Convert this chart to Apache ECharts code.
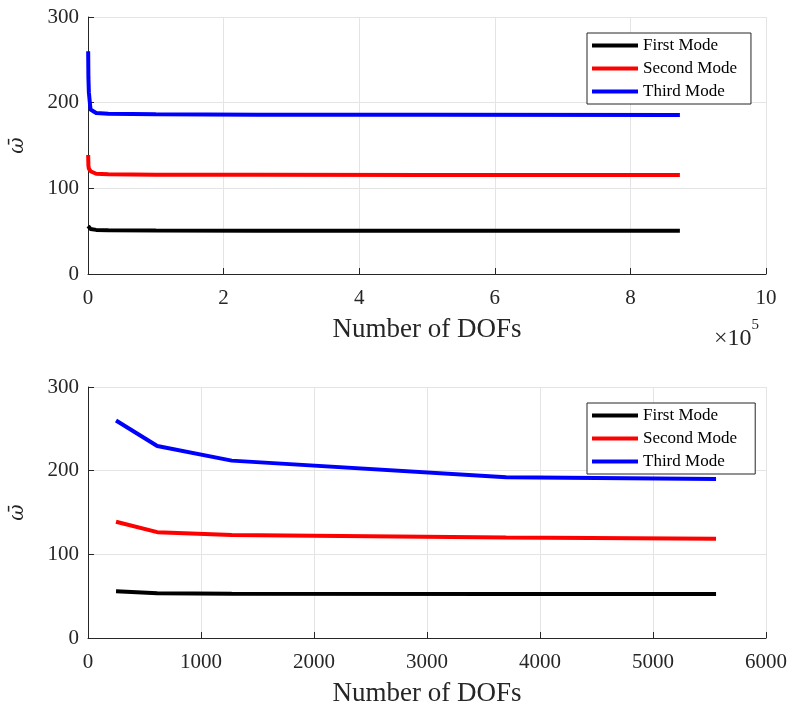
<!DOCTYPE html>
<html>
<head>
<meta charset="utf-8">
<script src="https://cdn.jsdelivr.net/npm/echarts@6/dist/echarts.min.js"></script>
<style>
    html, body { margin: 0; padding: 0; background: #fff; }
    #chart { width: 792px; height: 708px; }
</style>
</head>
<body>
<div id="chart"></div>
<script>
// number of DOFs for each mesh
var dofs = [248, 613, 1272, 3700, 5558, 12000, 30000, 100000, 250000, 500000, 873000];
// omega bar for the three modes
var firstMode  = [55.9, 53.6, 53.0, 52.5, 52.6, 51.5, 51.0, 50.8, 50.6, 50.5, 50.4];
var secondMode = [139, 126.5, 123, 120, 118.5, 117, 116.5, 116, 115.8, 115.6, 115.5];
var thirdMode  = [260, 229.5, 212, 192, 190, 188, 187, 186.5, 186, 185.8, 185.5];
var modeNames = ['First Mode', 'Second Mode', 'Third Mode'];
var modeColors = ['#000000', '#ff0000', '#0000ff'];

// bottom plot only shows the first meshes (up to ~5600 DOFs)
var nSmall = 5;

var serif = '"Liberation Serif", "DejaVu Serif", serif';

function pairs(xs, ys, n) {
    var out = [];
    for (var i = 0; i < n; i++) out.push([xs[i], ys[i]]);
    return out;
}

function xAxisFor(gridIndex, max, interval, fmt) {
    return {
        gridIndex: gridIndex, type: 'value', min: 0, max: max, interval: interval,
        name: 'Number of DOFs', nameLocation: 'middle', nameGap: 42,
        nameTextStyle: { fontFamily: serif, fontSize: 27, color: '#262626' },
        axisLine: { show: true, lineStyle: { color: '#262626', width: 1 } },
        axisTick: { show: true, inside: true, length: 6, lineStyle: { color: '#262626' } },
        axisLabel: { fontFamily: serif, fontSize: 21, color: '#262626', margin: 14, formatter: fmt },
        splitLine: { show: true, lineStyle: { color: '#e4e4e4', width: 1 } }
    };
}

function yAxisFor(gridIndex) {
    return {
        gridIndex: gridIndex, type: 'value', min: 0, max: 300, interval: 100,
        name: '\u03c9\u0304', nameLocation: 'middle', nameGap: 60, nameRotate: 90,
        nameTextStyle: { fontFamily: '"DejaVu Serif", serif', fontSize: 20, color: '#262626', fontStyle: 'italic' },
        axisLine: { show: true, lineStyle: { color: '#262626', width: 1 } },
        axisTick: { show: true, inside: true, length: 6, lineStyle: { color: '#262626' } },
        axisLabel: { fontFamily: serif, fontSize: 21, color: '#262626', margin: 9 },
        splitLine: { show: true, lineStyle: { color: '#e4e4e4', width: 1 } }
    };
}

var allData = [firstMode, secondMode, thirdMode];
var series = [];
for (var k = 0; k < 3; k++) {
    series.push({
        name: modeNames[k], type: 'line', xAxisIndex: 0, yAxisIndex: 0,
        data: pairs(dofs, allData[k], dofs.length),
        showSymbol: false, lineStyle: { color: modeColors[k], width: 4 }, itemStyle: { color: modeColors[k] }
    });
}
for (var k = 0; k < 3; k++) {
    series.push({
        name: modeNames[k] + ' ', type: 'line', xAxisIndex: 1, yAxisIndex: 1,
        data: pairs(dofs, allData[k], nSmall),
        showSymbol: false, lineStyle: { color: modeColors[k], width: 4 }, itemStyle: { color: modeColors[k] }
    });
}

function legendFor(top, names) {
    return {
        data: names, orient: 'vertical', left: 587, top: top,
        itemWidth: 46, itemHeight: 4, itemGap: 6,
        padding: [4, 14, 4, 5],
        borderColor: '#262626', borderWidth: 1, borderRadius: 0, backgroundColor: '#fff',
        selectedMode: false,
        icon: 'rect',
        textStyle: { fontFamily: serif, fontSize: 17, color: '#000' }
    };
}

var chart = echarts.init(document.getElementById('chart'));
chart.setOption({
    backgroundColor: '#fff',
    animation: false,
    grid: [
        { left: 88, right: 26, top: 17, height: 257 },
        { left: 88, right: 26, top: 387, height: 256 }
    ],
    xAxis: [
        xAxisFor(0, 1000000, 200000, function (v) { return String(v / 100000); }),
        xAxisFor(1, 6000, 1000, function (v) { return String(v); })
    ],
    yAxis: [yAxisFor(0), yAxisFor(1)],
    legend: [
        legendFor(33, modeNames),
        legendFor(403, modeNames.map(function (n) { return n + ' '; }))
    ],
    graphic: [{
        type: 'text', left: 714, top: 318,
        style: {
            text: '{a|\u00d710}{b|5}',
            rich: {
                a: { fontFamily: serif, fontSize: 24, fill: '#262626', padding: [9, 0, 0, 0] },
                b: { fontFamily: serif, fontSize: 15, fill: '#262626', verticalAlign: 'top' }
            }
        }
    }],
    series: series
});
</script>
</body>
</html>
